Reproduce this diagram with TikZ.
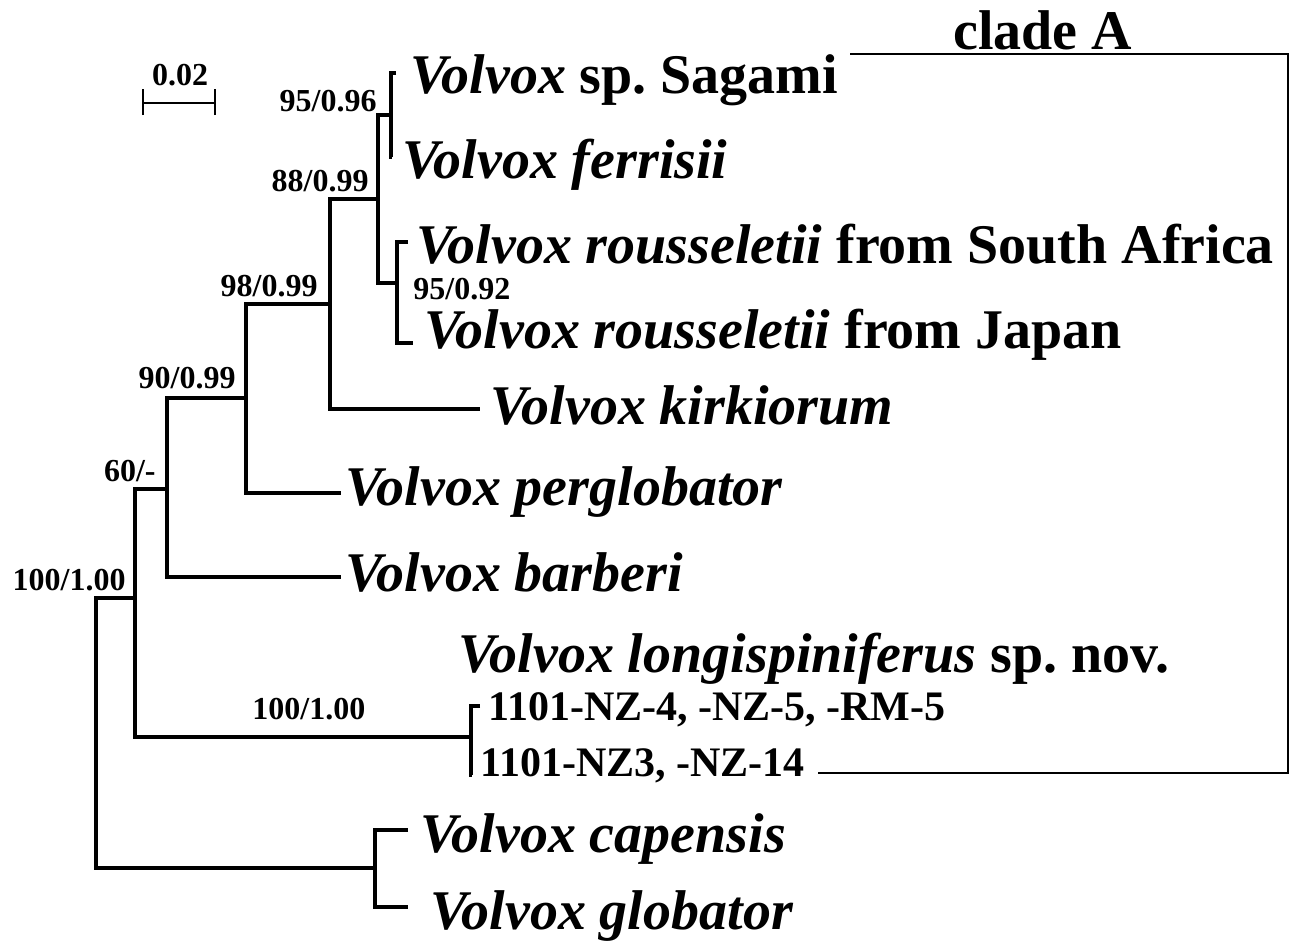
\documentclass[tikz,border=0pt]{standalone}
\usepackage{fontspec}
\setmainfont{Liberation Serif}
\usetikzlibrary{positioning}
\newcommand{\vsp}[1]{\textit{Volvox #1}}

\begin{document}
\begin{tikzpicture}[x=0.5pt,y=-0.5pt,
    branch/.style={line width=1.8pt,line join=miter},
    cladeline/.style={line width=0.8pt},
    taxon/.style={anchor=base west,inner sep=0pt,font=\fontsize{28}{30}\selectfont\bfseries},
    strain/.style={anchor=base west,inner sep=0pt,font=\fontsize{21}{24}\selectfont\bfseries},
    support/.style={anchor=base east,inner sep=0pt,font=\fontsize{16}{18}\selectfont\bfseries}
  ]
    \useasboundingbox (0,0) rectangle (1293,947);
    % leaf tips
    \coordinate (tSag) at (396,73);
    \coordinate (tFer) at (392,157);
    \coordinate (tRSA) at (408,242);
    \coordinate (tRJP) at (413,343);
    \coordinate (tKir) at (480,409);
    \coordinate (tPer) at (341,493);
    \coordinate (tBar) at (341,577);
    \coordinate (tNZa) at (480,706);
    \coordinate (tNZb) at (472,775);
    \coordinate (tCap) at (408,830);
    \coordinate (tGlo) at (408,907);
    % internal nodes
    \coordinate (nSF) at (391,115);
    \coordinate (nR) at (397,283);
    \coordinate (nSFR) at (378,199);
    \coordinate (nK) at (330,304);
    \coordinate (nP) at (246,398);
    \coordinate (nB) at (167,489);
    \coordinate (nL) at (135,598);
    \coordinate (nLong) at (471,737);
    \coordinate (nCG) at (375,868);
    \coordinate (root) at (96,733);

    \draw[branch] (tSag) -| (nSF) |- (tFer);
    \draw[branch] (tRSA) -| (nR) |- (tRJP);
    \draw[branch] (nSF) -| (nSFR) |- (nR);
    \draw[branch] (nSFR) -| (nK) |- (tKir);
    \draw[branch] (nK) -| (nP) |- (tPer);
    \draw[branch] (nP) -| (nB) |- (tBar);
    \draw[branch] (nB) -| (nL) |- (nLong);
    \draw[branch] (tNZa) -| (nLong) |- (tNZb);
    \draw[branch] (tCap) -| (nCG) |- (tGlo);
    \draw[branch] (nL) -| (root) |- (nCG);

    % taxa
    \node[taxon] (sag) at (410,93) {\textit{Volvox} sp.\ Sagami};
    \node[taxon] (fer) at (402,178) {\vsp{ferrisii}};
    \node[taxon] (rsa) at (416,263) {\vsp{rousseletii} from South Africa};
    \node[taxon] (rjp) at (424,348) {\vsp{rousseletii} from Japan};
    \node[taxon] (kir) at (490,424) {\vsp{kirkiorum}};
    \node[taxon] (per) at (345,505) {\vsp{perglobator}};
    \node[taxon] (bar) at (345,591) {\vsp{barberi}};
    \node[taxon] (lon) at (458,672) {\vsp{longispiniferus} sp.\ nov.};
    \node[strain] (nza) at (488,720) {1101-NZ-4, -NZ-5, -RM-5};
    \node[strain] (nzb) at (480,776) {1101-NZ3, -NZ-14};
    \node[taxon] (cap) at (420,852) {\vsp{capensis}};
    \node[taxon] (glo) at (430,929) {\vsp{globator}};

    % support values
    \node[support] (s1) at (377,112) {95/0.96};
    \node[support] (s2) at (369,191) {88/0.99};
    \node[support] (s3) at (318,296) {98/0.99};
    \node[support] (s4) at (236,388) {90/0.99};
    \node[support] (s5) at (156,481) {60/-};
    \node[support] (s6) at (126,590) {100/1.00};
    \node[support,anchor=base west] (s7) at (413,299) {95/0.92};
    \node[support,anchor=base west] (s8) at (252,719) {100/1.00};

    % scale bar
    \coordinate (barL) at (143,103);
    \coordinate (barR) at (215,103);
    \draw[branch,line width=1.3pt] (barL) -- (barR);
    \draw[branch,line width=1.3pt] ([yshift=-6]barL) -- ([yshift=7]barL);
    \draw[branch,line width=1.3pt] ([yshift=-6]barR) -- ([yshift=7]barR);
    \node[support,anchor=base] (scale) at (180,85) {0.02};

    % clade A
    \coordinate (cTop) at (850,54);
    \coordinate (cCorner) at (1288,773);
    \coordinate (cEnd) at (818,773);
    \draw[cladeline] (cTop) -| (cCorner) -- (cEnd);
    \node[taxon] (clade) at (953,50) {clade A};
  \end{tikzpicture}
\end{document}
